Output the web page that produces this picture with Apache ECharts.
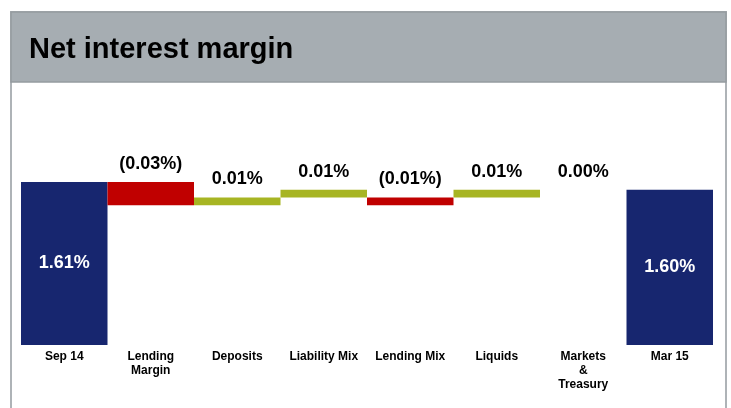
<!DOCTYPE html>
<html>
<head>
<meta charset="utf-8">
<script src="https://cdn.jsdelivr.net/npm/echarts@6/dist/echarts.min.js"></script>
<style>
  html, body { margin: 0; padding: 0; background: #fff; }
  #chart { width: 731px; height: 408px; }
</style>
</head>
<body>
<div id="chart"></div>
<script>
  // categories along the x axis
  var categories = ['Sep 14', 'Lending\nMargin', 'Deposits', 'Liability Mix', 'Lending Mix', 'Liquids', 'Markets\n&\nTreasury', 'Mar 15'];
  // the two totals (first and last bar)
  var totals = [1.61, 1.60];
  // changes between them, as printed over each step
  var changes = [-0.03, 0.01, 0.01, -0.01, 0.01, 0.00];
  // lower end of each floating step, as drawn in the picture
  var stepBase = [1.58, 1.58, 1.59, 1.58, 1.59, 1.60];

  var NAVY = '#17266f', RED = '#c00000', GREEN = '#a7b523';
  var FONT = "'Liberation Sans', Arial, sans-serif";

  // build the stacked series: invisible base + visible step
  var baseData = ['-'];
  var stepData = [{value: totals[0], itemStyle: {color: NAVY}}];
  for (var i = 0; i < changes.length; i++) {
    baseData.push(stepBase[i]);
    stepData.push({
      value: Math.abs(changes[i]),
      itemStyle: {color: changes[i] < 0 ? RED : GREEN},
      label: {position: 'top', distance: 9, color: '#000'}
    });
  }
  baseData.push('-');
  stepData.push({value: totals[1], itemStyle: {color: NAVY}});

  function fmt(i) {
    if (i === 0) return totals[0].toFixed(2) + '%';
    if (i === categories.length - 1) return totals[1].toFixed(2) + '%';
    var c = changes[i - 1];
    return c < 0 ? '(' + Math.abs(c).toFixed(2) + '%)' : c.toFixed(2) + '%';
  }

  var chart = echarts.init(document.getElementById('chart'));
  var option = {
    animation: false,
    backgroundColor: '#fff',
    graphic: [
      {
        type: 'rect', z: -10,
        shape: {x: 11, y: 12, width: 715, height: 420},
        style: {fill: '#fff', stroke: '#aeb3b7', lineWidth: 2}
      },
      {
        type: 'rect', z: -9,
        shape: {x: 11, y: 12, width: 715, height: 70},
        style: {fill: '#a6adb2', stroke: '#959ca0', lineWidth: 1.5}
      }
    ],
    title: {
      text: 'Net interest margin',
      left: 29,
      top: 35,
      padding: 0,
      textStyle: {fontFamily: FONT, fontSize: 29, fontWeight: 'bold', color: '#000'}
    },
    grid: {left: 21, right: 18, top: 112, bottom: 63},
    xAxis: {
      type: 'category',
      data: categories,
      axisLine: {show: false},
      axisTick: {show: false},
      axisLabel: {
        interval: 0,
        margin: 5,
        fontFamily: FONT,
        fontSize: 12,
        fontWeight: 'bold',
        lineHeight: 14,
        color: '#000'
      }
    },
    yAxis: {
      type: 'value',
      min: 1.40,
      max: 1.70,
      show: false,
      splitLine: {show: false}
    },
    series: [
      {
        type: 'bar',
        stack: 'wf',
        data: baseData,
        barCategoryGap: 0,
        itemStyle: {color: 'transparent'},
        silent: true
      },
      {
        type: 'bar',
        stack: 'wf',
        data: stepData,
        barCategoryGap: 0,
        label: {
          show: true,
          position: 'inside',
          fontFamily: FONT,
          fontSize: 18,
          fontWeight: 'bold',
          color: '#fff',
          formatter: function (p) { return fmt(p.dataIndex); }
        }
      }
    ]
  };
  chart.setOption(option);
</script>
</body>
</html>
